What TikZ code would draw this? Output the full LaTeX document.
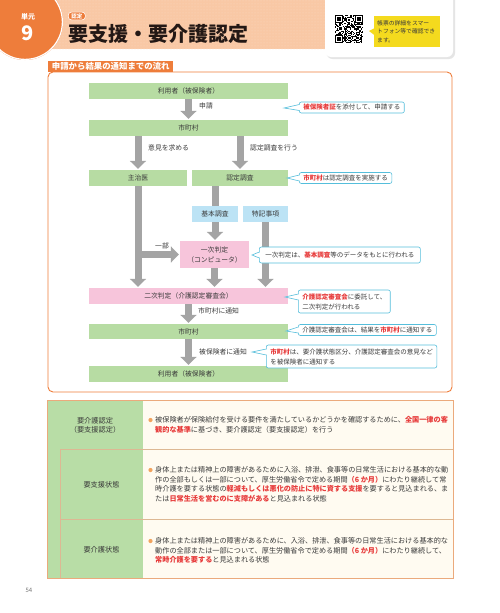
\documentclass[tikz,border=0pt]{standalone}
\usepackage{fontspec}
\setmainfont{Noto Sans CJK JP}
\usetikzlibrary{arrows.meta,calc,patterns}
\definecolor{orangeM}{HTML}{EE7D3B}
\definecolor{peach}{HTML}{F9C8A5}
\definecolor{peachlt}{HTML}{FBD9C0}
\definecolor{txt}{HTML}{3A3A3A}
\definecolor{titleblk}{HTML}{231815}
\definecolor{qyellow}{HTML}{F4DA1E}
\definecolor{fgreen}{HTML}{B7DCA3}
\definecolor{fpink}{HTML}{F7C5DB}
\definecolor{fblue}{HTML}{BCE3F5}
\definecolor{agray}{HTML}{A4A4A4}
\definecolor{ccyan}{HTML}{55BEDB}
\definecolor{hred}{HTML}{E73B3B}
\definecolor{tgreen}{HTML}{B8DDA6}
\definecolor{cream}{HTML}{FFFBF1}
\definecolor{tborder}{HTML}{EBAA7C}
\definecolor{tline}{HTML}{DDB893}
\definecolor{bulletor}{HTML}{F2A35E}
\newcommand\hl[1]{{\color{hred}\bfseries #1}}
\newcommand\calloutptr[3]{%
  \fill[white] ($(#1.west)+(1.2,#2-2.8)$) -- (#3) -- ($(#1.west)+(1.2,#2+2.8)$) -- cycle;
  \draw[ccyan, line width=0.6pt, line join=miter] ($(#1.west)+(0.3,#2-3)$) -- (#3) -- ($(#1.west)+(0.3,#2+3)$);}
\begin{document}
\begin{tikzpicture}[x=1pt,y=-1pt,
  fbox/.style={fill=fgreen, minimum height=16pt, inner sep=0pt, text=txt, font=\fontsize{6.8}{8}\selectfont},
  pbox/.style={fbox, fill=fpink},
  bbox/.style={fbox, fill=fblue},
  garrow/.style={draw=agray, line width=7pt, -{Triangle[width=16pt,length=8pt]}, shorten >=1pt},
  gbar/.style={draw=agray, line width=7pt},
  alab/.style={anchor=west, inner sep=0pt, text=txt, font=\fontsize{6.8}{8}\selectfont},
  co/.style={draw=ccyan, line width=0.6pt, fill=white, rounded corners=2pt, inner xsep=4pt, inner ysep=2pt, align=left, text=txt, font=\fontsize{6.5}{10}\selectfont, anchor=west, minimum height=11pt},
  tleft/.style={inner sep=0pt, text=txt, align=center, font=\fontsize{7.2}{9}\selectfont},
  tright/.style={inner sep=0pt, text=txt, align=left, anchor=north west, font=\fontsize{7.15}{9.5}\selectfont},
]
\useasboundingbox (0,0) rectangle (500,613);
\fill[white] (0,0) rectangle (500,613);

% ---------- header ----------
\fill[peach] (0,0) rectangle (332,49);
\fill[pattern=dots, pattern color=peachlt] (0,0) rectangle (332,49);
\fill[orangeM] (25,22) circle[radius=38pt];
\draw[white, line width=1.2pt] (25,22) circle[radius=37.4pt];
\node[text=white, font=\fontsize{7}{8}\selectfont\bfseries] (unitlab) at (28,17) {単元};
\node[text=white, font=\fontsize{20}{20}\selectfont\bfseries] (unitnum) at (28,33) {9};
\node[fill=orangeM, draw=white, line width=0.6pt, rounded corners=3pt, text=white, font=\fontsize{5.5}{6}\selectfont\bfseries, inner xsep=3pt, inner ysep=1.2pt, anchor=west] (tag) at (68,16) {認定};
\node[anchor=west, inner sep=0pt, text=titleblk, font=\fontsize{20}{22}\selectfont\bfseries] (title) at (68,34) {要支援・要介護認定};

% QR box
\fill[black!10, rounded corners=6pt] (326.5,-6) rectangle (455,59);
\fill[white, rounded corners=6pt] (325,-8) rectangle (453,57);
\pgfmathsetseed{12}
\foreach \i in {0,...,24}{\foreach \j in {0,...,24}{
  \pgfmathtruncatemacro\qb{rnd<0.5}
  \ifnum\qb=1 \fill[black] (335+\i*1.12,15+\j*1.12) rectangle ++(1.12,1.12);\fi
}}
\foreach \fx/\fy in {335/15, 355.16/15, 335/35.16}{
  \fill[white] (\fx-0.5,\fy-0.5) rectangle ++(8.84,8.84);
  \fill[black] (\fx,\fy) rectangle ++(7.84,7.84);
  \fill[white] (\fx+1.12,\fy+1.12) rectangle ++(5.6,5.6);
  \fill[black] (\fx+2.24,\fy+2.24) rectangle ++(3.36,3.36);
}
\node[fill=qyellow, inner xsep=3pt, inner ysep=2pt, align=left, anchor=north west, text=txt, font=\fontsize{5.8}{8.8}\selectfont, minimum width=66pt, minimum height=31pt, text width=60pt] (qrnote) at (374,16) {帳票の詳細をスマー\\トフォン等で確認でき\\ます。};
\coordinate (qrtip) at (369,31);
\fill[qyellow] ($(qrnote.west)+(0.5,-3.5)$) -- (qrtip) -- ($(qrnote.west)+(0.5,3.5)$) -- cycle;

% ---------- flow frame ----------
\draw[orangeM, line width=0.9pt, rounded corners=5pt] (48,72) rectangle (452,392);
\node[fill=orangeM, text=white, font=\fontsize{8.4}{9}\selectfont\bfseries, inner sep=0pt, minimum height=11pt, minimum width=125pt, anchor=north west] (seclab) at (48,61) {申請から結果の通知までの流れ};

% boxes
\node[fbox, minimum width=199pt] (user1) at (188.5,91) {利用者（被保険者）};
\node[fbox, minimum width=199pt] (city1) at (188.5,128) {市町村};
\node[fbox, minimum width=98pt] (doc) at (138,178) {主治医};
\node[fbox, minimum width=96pt] (survey) at (240,178) {認定調査};
\node[bbox, minimum width=46pt] (basic) at (215,214) {基本調査};
\node[bbox, minimum width=45pt] (special) at (265.5,214) {特記事項};
\node[pbox, minimum width=69pt, minimum height=27pt, align=center, font=\fontsize{6.8}{10}\selectfont] (ichiji) at (214.5,254.5) {一次判定\\（コンピュータ）};
\node[pbox, minimum width=199pt] (niji) at (188.5,296) {二次判定（介護認定審査会）};
\node[fbox, minimum width=199pt, minimum height=15pt] (city2) at (188.5,331.5) {市町村};
\node[fbox, minimum width=199pt] (user2) at (188.5,374) {利用者（被保険者）};

% arrows
\draw[garrow] (user1.south) -- (city1.north);
\draw[garrow] (city1.south -| doc.north) -- (doc.north);
\draw[garrow] (city1.south -| survey.north) -- (survey.north);
\draw[gbar] (survey.south -| basic.north) -- (basic.north);
\draw[garrow] (basic.south) -- (basic.south |- ichiji.north);
\draw[garrow] (doc.south) -- (doc.south |- niji.north);
\draw[garrow] (doc.south |- ichiji.west) -- (ichiji.west);
\draw[garrow] (ichiji.south) -- (ichiji.south |- niji.north);
\draw[garrow] (special.south) -- (special.south |- niji.north);
\draw[garrow] (niji.south) -- (city2.north);
\draw[garrow] (city2.south) -- (user2.north);

% arrow labels
\node[alab] (l1) at (199,106) {申請};
\node[alab] (l2) at (148,148) {意見を求める};
\node[alab] (l3) at (250,148) {認定調査を行う};
\node[alab, anchor=center] (l4) at (162,246) {一部};
\node[alab] (l5) at (198,311) {市町村に通知};
\node[alab] (l6) at (199,352) {被保険者に通知};

% callouts
\node[co] (c1) at (299,107.5) {\hl{被保険者証}を添付して、申請する};
\coordinate (t1) at (284,108);
\calloutptr{c1}{0}{t1}
\node[co] (c2) at (299,178) {\hl{市町村}は認定調査を実施する};
\coordinate (t2) at (287,178);
\calloutptr{c2}{0}{t2}
\node[co, minimum height=16pt, inner xsep=6pt] (c3) at (259,255) {一次判定は、\hl{基本調査}等のデータをもとに行われる};
\coordinate (t3) at (252,255);
\calloutptr{c3}{0}{t3}
\node[co, minimum height=23pt] (c4) at (298,301.5) {\hl{介護認定審査会}に委託して、\\二次判定が行われる};
\coordinate (t4) at (285,297);
\calloutptr{c4}{-4.5}{t4}
\node[co] (c5) at (298,330) {介護認定審査会は、結果を\hl{市町村}に通知する};
\coordinate (t5) at (286,331);
\calloutptr{c5}{0}{t5}
\node[co, minimum height=23pt] (c6) at (266,356.5) {\hl{市町村}は、要介護状態区分、介護認定審査会の意見など\\を被保険者に通知する};
\coordinate (t6) at (252,352);
\calloutptr{c6}{-4.5}{t6}

% ---------- table ----------
\fill[tgreen] (47,400) rectangle (143,578);
\fill[cream] (143,400) rectangle (453,578);
\draw[tline, line width=0.6pt] (60,449) -- (453,449);
\draw[tline, line width=0.6pt] (60,519) -- (453,519);
\draw[tline, line width=0.6pt] (60,449) -- (60,578);
\draw[tborder, line width=0.8pt] (47,400) rectangle (453,578);

\node[tleft] (r1l) at (95,425) {要介護認定\\（要支援認定）};
\node[tleft] (r2l) at (101.5,485) {要支援状態};
\node[tleft] (r3l) at (101.5,550) {要介護状態};

\fill[bulletor] (150.5,420) circle[radius=2.1pt];
\node[tright] (r1r) at (155,416.4) {被保険者が保険給付を受ける要件を満たしているかどうかを確認するために、\hl{全国一律の客}\\\hl{観的な基準}に基づき、要介護認定（要支援認定）を行う};
\fill[bulletor] (150.5,470) circle[radius=2.1pt];
\node[tright] (r2r) at (155,466.4) {身体上または精神上の障害があるために入浴、排泄、食事等の日常生活における基本的な動\\作の全部もしくは一部について、厚生労働省令で定める期間\hl{（6 か月）}にわたり継続して常\\時介護を要する状態の\hl{軽減もしくは悪化の防止に特に資する支援}を要すると見込まれる、ま\\たは\hl{日常生活を営むのに支障がある}と見込まれる状態};
\fill[bulletor] (150.5,541) circle[radius=2.1pt];
\node[tright] (r3r) at (155,537.4) {身体上または精神上の障害があるために、入浴、排泄、食事等の日常生活における基本的な\\動作の全部または一部について、厚生労働省令で定める期間\hl{（6 か月）}にわたり継続して、\\\hl{常時介護を要する}と見込まれる状態};

\node[text=black!55, font=\fontsize{6}{7}\selectfont] (pnum) at (29,590) {54};
\end{tikzpicture}
\end{document}
